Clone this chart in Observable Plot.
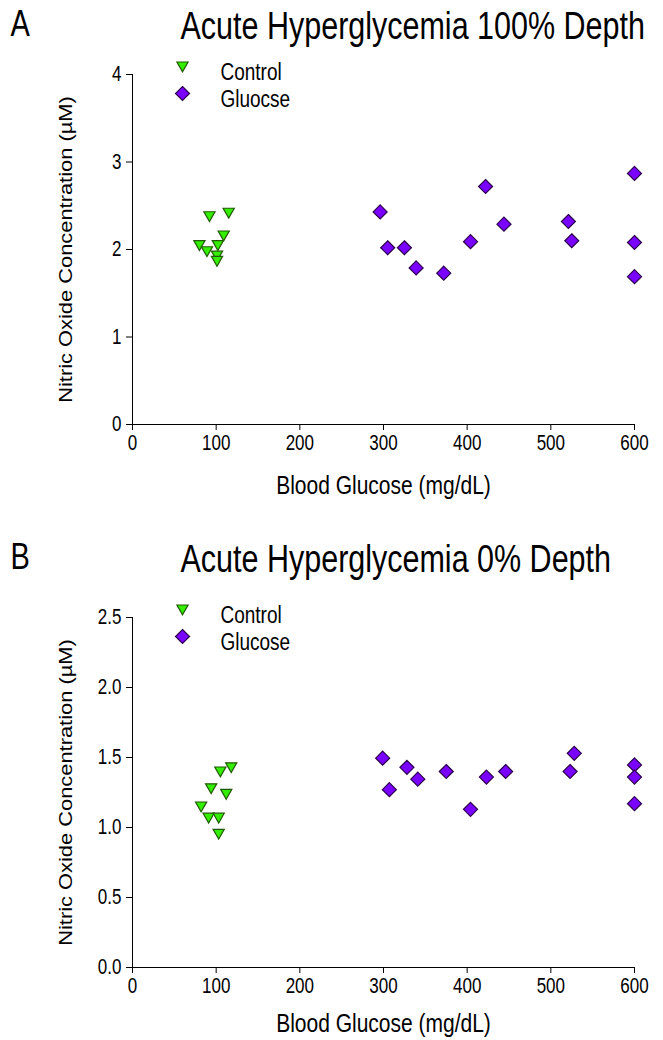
<!DOCTYPE html>
<html><head><meta charset="utf-8">
<script src="https://cdn.jsdelivr.net/npm/d3@7"></script>
<script src="https://cdn.jsdelivr.net/npm/@observablehq/plot@0.6"></script>
<style>
body{margin:0;background:#fff;}
#wrap{width:663px;}
svg{display:block;}
</style></head><body><div id="wrap"></div>
<script>
// ---- data ----
const xTicks = [0, 100, 200, 300, 400, 500, 600];
const yTicksA = [0, 1, 2, 3, 4];
const yTicksB = [0, 0.5, 1.0, 1.5, 2.0, 2.5];

// Panel A: 100% depth
const ctrlGlucoseA = [92, 115, 109, 80, 89, 102, 101, 101];
const ctrlNOA      = [2.38, 2.42, 2.16, 2.05, 1.98, 2.05, 1.93, 1.87];
const gluGlucoseA  = [296, 305, 325, 339, 372, 404, 422, 444, 521, 525, 600, 600, 600];
const gluNOA       = [2.43, 2.02, 2.02, 1.79, 1.73, 2.09, 2.72, 2.29, 2.32, 2.10, 2.87, 2.08, 1.69];

// Panel B: 0% depth
const ctrlGlucoseB = [118, 105, 94, 112, 82, 91, 103, 103];
const ctrlNOB      = [1.43, 1.40, 1.28, 1.24, 1.15, 1.07, 1.07, 0.955];
const gluGlucoseB  = [299, 328, 341, 307, 375, 404, 423, 446, 528, 523, 600, 600, 600];
const gluNOB       = [1.495, 1.43, 1.345, 1.27, 1.40, 1.13, 1.36, 1.40, 1.53, 1.40, 1.447, 1.36, 1.17];

const legendA = ["Control", "Gluocse"];
const legendB = ["Control", "Glucose"];

// ---- symbols ----
const downTriangle = {draw(ctx, size) {
  const r = Math.sqrt(size / Math.PI);
  ctx.moveTo(-r, -0.8 * r); ctx.lineTo(r, -0.8 * r); ctx.lineTo(0, 0.95 * r); ctx.closePath();
}};
const diamond = {draw(ctx, size) {
  const r = Math.sqrt(size / Math.PI);
  ctx.moveTo(0, -r); ctx.lineTo(r, 0); ctx.lineTo(0, r); ctx.lineTo(-r, 0); ctx.closePath();
}};

const FONT = "Liberation Sans, Arial, sans-serif";
const K = 1.25; // vertical stretch of text in the reference

function stretch(svg, k) {
  svg.querySelectorAll("text").forEach(t => {
    const b = t.getBBox();
    const cx = b.x + b.width / 2, cy = b.y + b.height / 2;
    const rot = /rotate/.test(t.getAttribute("transform") || "");
    const s = rot ? `scale(${k},1)` : `scale(1,${k})`;
    t.setAttribute("transform", (t.getAttribute("transform") || "") + ` translate(${cx},${cy}) ${s} translate(${-cx},${-cy})`);
  });
}

function panel(o) {
  const ctrl = o.cx.map((x, i) => ({x, y: o.cy[i]}));
  const glu = o.gx.map((x, i) => ({x, y: o.gy[i]}));
  return Plot.plot({
    width: 663, height: o.height,
    marginTop: 74, marginLeft: 132, marginRight: 29, marginBottom: o.height - 424,
    style: {fontFamily: FONT, color: "#000", background: "#fff", overflow: "visible"},
    x: {domain: [0, 600], axis: null},
    y: {domain: o.yDomain, axis: null},
    marks: [
      Plot.axisX({ticks: xTicks, tickSize: 6, tickPadding: 6, fontSize: 17, label: null, stroke: "#000"}),
      Plot.axisY({ticks: o.yTicks, tickSize: 6, tickPadding: 5, fontSize: 17, label: null, tickFormat: o.yFmt, stroke: "#000"}),
      Plot.ruleX([0], {stroke: "#000", strokeWidth: 1}),
      Plot.ruleY([0], {stroke: "#000", strokeWidth: 1}),
      Plot.dot(ctrl, {x: "x", y: "y", r: 5.6, symbol: downTriangle, fill: "#33ee00", stroke: "#1f5a00", strokeWidth: 1.2}),
      Plot.dot(glu, {x: "x", y: "y", r: 7, symbol: diamond, fill: "#7a00ff", stroke: "#2a004d", strokeWidth: 1.2}),
      // legend
      Plot.dot([0], {frameAnchor: "top-left", dx: 50, dy: -8, r: 5.6, symbol: downTriangle, fill: "#33ee00", stroke: "#1f5a00", strokeWidth: 1.2}),
      Plot.dot([0], {frameAnchor: "top-left", dx: 50, dy: 19, r: 7, symbol: diamond, fill: "#7a00ff", stroke: "#2a004d", strokeWidth: 1.2}),
      Plot.text([o.legend[0]], {text: d => d, frameAnchor: "top-left", dx: 88, dy: -10, textAnchor: "start", fontSize: 19}),
      Plot.text([o.legend[1]], {text: d => d, frameAnchor: "top-left", dx: 88, dy: 17, textAnchor: "start", fontSize: 19}),
      // axis titles
      Plot.text(["Blood Glucose (mg/dL)"], {text: d => d, frameAnchor: "bottom", dy: o.xTitleDy, textAnchor: "middle", fontSize: 21}),
      Plot.text(["Nitric Oxide Concentration (µM)"], {text: d => d, frameAnchor: "left", dx: -66, rotate: -90, textAnchor: "middle", fontSize: 17.5}),
      // title + letter
      Plot.text([o.title], {text: d => d, frameAnchor: "top-left", dx: 48, dy: o.titleDy, textAnchor: "start", fontSize: 30.5}),
      Plot.text([o.letter], {text: d => d, frameAnchor: "top-left", dx: -122, dy: o.titleDy - 2, textAnchor: "start", fontSize: 29})
    ]
  });
}

const wrap = document.getElementById("wrap");
const a = panel({letter: "A", title: "Acute Hyperglycemia 100% Depth", cx: ctrlGlucoseA, cy: ctrlNOA, gx: gluGlucoseA, gy: gluNOA,
  yDomain: [0, 4], yTicks: yTicksA, yFmt: d3.format("d"), legend: legendA, height: 543, titleDy: -60, xTitleDy: 68});
const b = panel({letter: "B", title: "Acute Hyperglycemia 0% Depth", cx: ctrlGlucoseB, cy: ctrlNOB, gx: gluGlucoseB, gy: gluNOB,
  yDomain: [0, 2.5], yTicks: yTicksB, yFmt: d3.format(".1f"), legend: legendB, height: 497, titleDy: -70, xTitleDy: 63});
wrap.append(a, b);
stretch(a, K); stretch(b, K);
</script></body></html>
